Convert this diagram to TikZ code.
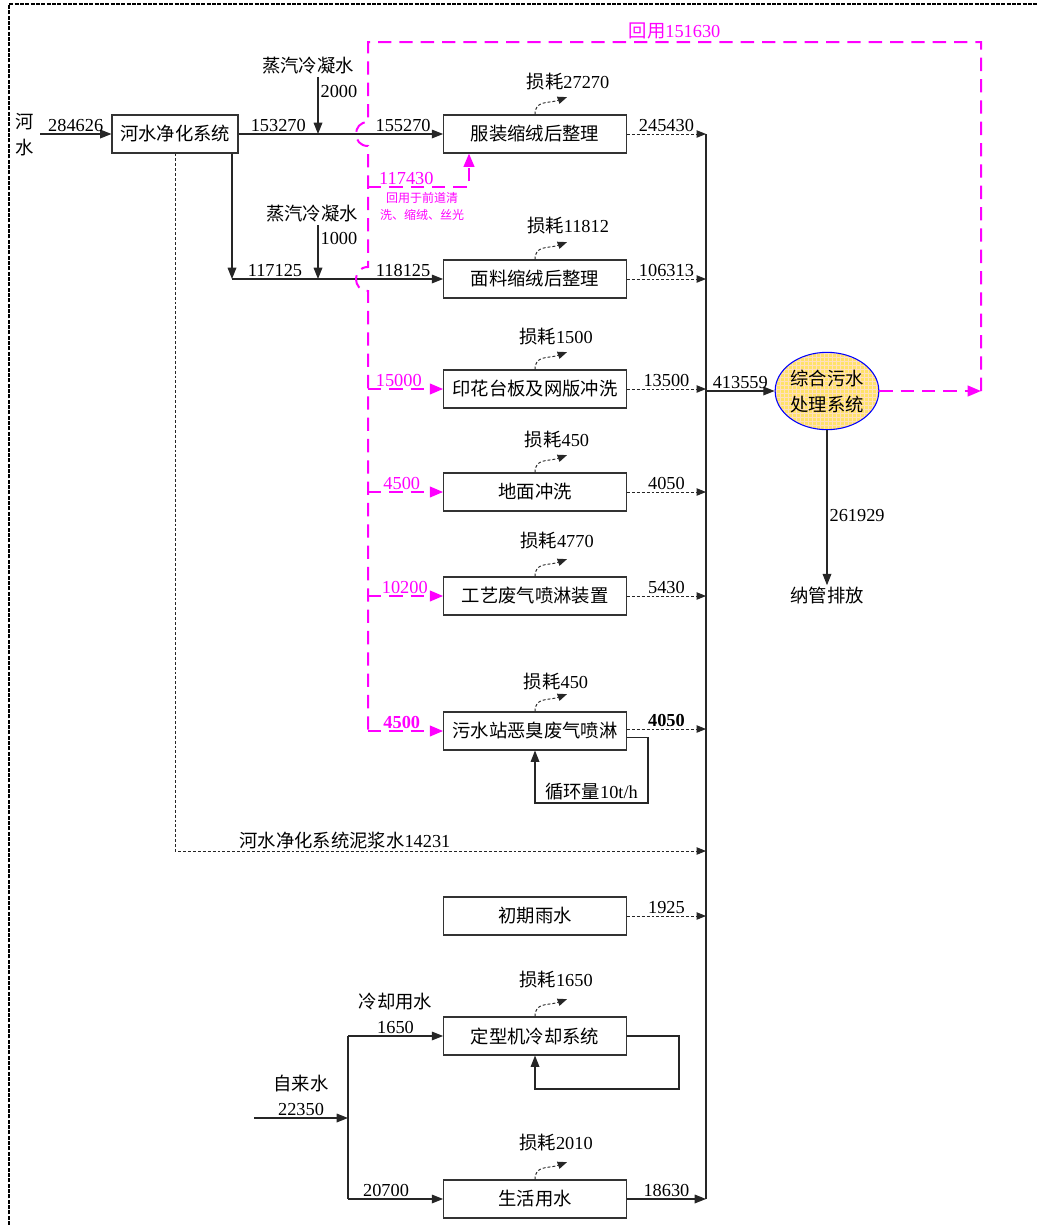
\documentclass[tikz,border=0pt]{standalone}
\usepackage{fontspec}
\setmainfont{Liberation Serif}
\newfontfamily\cjk{Noto Sans CJK SC}
\newcommand{\zh}[1]{{\cjk #1}}
\usepackage{tikz}
\usetikzlibrary{arrows.meta,shapes.geometric,patterns}
\definecolor{mag}{RGB}{255,0,255}
\definecolor{ylw}{RGB}{255,226,105}

\begin{document}
\begin{tikzpicture}[x=0.75pt,y=-0.75pt,
    every node/.style={font=\fontsize{13.75pt}{18.5pt}\selectfont, inner sep=1.5pt},
    box/.style={draw=black!80, line width=0.8pt, minimum width=137pt, minimum height=28.5pt, inner sep=0pt, font=\fontsize{13.75pt}{18.5pt}\selectfont\cjk},
    flow/.style={draw=black!85, line width=0.9pt},
    arr/.style={flow, -{Triangle[length=8.5pt,width=6.5pt]}},
    outarr/.style={draw=black!85, line width=0.7pt, dash pattern=on 2.2pt off 1.5pt, -{Triangle[length=7pt,width=5.5pt]}},
    loss/.style={outarr},
    recy/.style={draw=mag, line width=1.5pt, dash pattern=on 10pt off 6pt},
    recyarr/.style={recy, -{Triangle[length=10pt,width=8pt]}},
    pinknum/.style={text=mag, above, inner sep=1.2pt},
    border/.style={line width=1.8pt, dash pattern=on 3pt off 1pt}]
    \useasboundingbox (0,0) rectangle (1038,1225);
    \draw[border] (9,1225) -- (9,4) -- (1038,4);

    % process boxes
    \node[box, minimum width=94.5pt] (pur) at (175,134) {河水净化系统};
    \node[box] (p1) at (535,134) {服装缩绒后整理};
    \node[box] (p2) at (535,279) {面料缩绒后整理};
    \node[box] (p3) at (535,389) {印花台板及网版冲洗};
    \node[box] (p4) at (535,492) {地面冲洗};
    \node[box] (p5) at (535,596) {工艺废气喷淋装置};
    \node[box] (p6) at (535,731) {污水站恶臭废气喷淋};
    \node[box] (p7) at (535,916) {初期雨水};
    \node[box] (p8) at (535,1036) {定型机冷却系统};
    \node[box] (p9) at (535,1199) {生活用水};
    \node[ellipse, draw=blue, line width=0.8pt, preaction={fill=ylw}, pattern=grid, pattern color=orange!25, minimum width=73.5pt, minimum height=58pt, inner sep=0pt, align=center, font=\fontsize{13.75pt}{19.5pt}\selectfont\cjk] (wwt) at (827,391) {综合污水\\处理系统};

    \node[align=center, font=\fontsize{13.75pt}{19.5pt}\selectfont\cjk] (rv) at (25,135) {河\\水};
    \node (s1) at (308,66) {\zh{蒸汽冷凝水}};
    \node (s2) at (312,214) {\zh{蒸汽冷凝水}};
    \node (out) at (827,596) {\zh{纳管排放}};
    \node[text=mag, align=center, font=\fontsize{9pt}{12.75pt}\selectfont\cjk] (note) at (422,207) {回用于前道清\\洗、缩绒、丝光};

    \node (l1) at (568,82) {\zh{损耗}27270};
    \node (l2) at (568,226) {\zh{损耗}11812};
    \node (l3) at (556,337) {\zh{损耗}1500};
    \node (l4) at (557,440) {\zh{损耗}450};
    \node (l5) at (557,541) {\zh{损耗}4770};
    \node (l6) at (556,682) {\zh{损耗}450};
    \node (l8) at (556,980) {\zh{损耗}1650};
    \node (l9) at (556,1143) {\zh{损耗}2010};

    \coordinate (riv) at (40,134);
    \coordinate (j1) at (318,134);
    \coordinate (j2) at (232,279);
    \coordinate (j3) at (318,279);
    \coordinate (col) at (706,134);
    \coordinate (mud) at (706,851);
    \coordinate (rc1) at (981,391);
    \coordinate (rc2) at (981,42);
    \coordinate (rc3) at (368,42);
    \coordinate (h1) at (368,134);
    \coordinate (h2) at (368,279);
    \coordinate (r1) at (368,187);
    \coordinate (q6) at (648,803);
    \coordinate (q8) at (679,1089);
    \coordinate (tw0) at (254,1118);
    \coordinate (tw1) at (348,1118);

    % river water
    \draw[arr] (riv) -- node[above] {284626} (pur.west);
    \draw[flow] (pur.east) -- node[above] {153270} (j1);
    \draw[arr] (j1) -- node[above, pos=0.68] {155270} (p1.west);
    \draw[arr] (s1.south -| j1) -- node[right, pos=0.25] {2000} (j1);
    \draw[arr] (pur.south -| j2) -- (j2);
    \draw[flow] (j2) -- node[above] {117125} (j3);
    \draw[arr] (j3) -- node[above, pos=0.68] {118125} (p2.west);
    \draw[arr] (s2.south -| j3) -- node[right, pos=0.25] {1000} (j3);
    \draw[outarr] (pur.south) |- node[above, pos=0.66] {\zh{河水净化系统泥浆水}14231} (mud);

    % losses
    \draw[loss] (p1.north) .. controls +(0pt,11pt) and +(-14pt,-5pt) .. ([shift={(24pt,13pt)}]p1.north);
    \draw[loss] (p2.north) .. controls +(0pt,11pt) and +(-14pt,-5pt) .. ([shift={(24pt,13pt)}]p2.north);
    \draw[loss] (p3.north) .. controls +(0pt,11pt) and +(-14pt,-5pt) .. ([shift={(24pt,13pt)}]p3.north);
    \draw[loss] (p4.north) .. controls +(0pt,11pt) and +(-14pt,-5pt) .. ([shift={(24pt,13pt)}]p4.north);
    \draw[loss] (p5.north) .. controls +(0pt,11pt) and +(-14pt,-5pt) .. ([shift={(24pt,13pt)}]p5.north);
    \draw[loss] (p6.north) .. controls +(0pt,11pt) and +(-14pt,-5pt) .. ([shift={(24pt,13pt)}]p6.north);
    \draw[loss] (p8.north) .. controls +(0pt,11pt) and +(-14pt,-5pt) .. ([shift={(24pt,13pt)}]p8.north);
    \draw[loss] (p9.north) .. controls +(0pt,11pt) and +(-14pt,-5pt) .. ([shift={(24pt,13pt)}]p9.north);

    % to the collector
    \draw[outarr] (p1.east) -- node[above] {245430} (p1.east -| col);
    \draw[outarr] (p2.east) -- node[above] {106313} (p2.east -| col);
    \draw[outarr] (p3.east) -- node[above] {13500} (p3.east -| col);
    \draw[outarr] (p4.east) -- node[above] {4050} (p4.east -| col);
    \draw[outarr] (p5.east) -- node[above] {5430} (p5.east -| col);
    \draw[outarr] ([yshift=1.5pt]p6.east) -- node[above] {\textbf{4050}} ([yshift=1.5pt]p6.east -| col);
    \draw[outarr] (p7.east) -- node[above] {1925} (p7.east -| col);
    \draw[arr] (p9.east) -- node[above] {18630} (p9.east -| col);
    \draw[flow] (col) -- (p9.east -| col);

    \draw[arr] (wwt.west -| col) -- node[above] {413559} (wwt.west);
    \draw[arr] (wwt.south) -- node[right, pos=0.55] {261929} (out);

    % reuse water
    \draw[recyarr] (wwt.east) -- (rc1);
    \draw[recy] (rc1) -- (rc2) -- node[above, text=mag] {\zh{回用}151630} (rc3)
        -- ([yshift=9pt]h1) .. controls +(-12pt,0pt) and +(-12pt,0pt) .. ([yshift=-9pt]h1)
        -- ([yshift=9pt]h2) .. controls +(-12pt,0pt) and +(-12pt,0pt) .. ([yshift=-9pt]h2)
        -- (rc3 |- p6.west);
    \draw[recyarr] (r1) -| node[pinknum, pos=0.19] {117430} ([xshift=-49.5pt]p1.south);
    \draw[recyarr] (rc3 |- p3.west) -- node[pinknum, pos=0.41] {15000} (p3.west);
    \draw[recyarr] (rc3 |- p4.west) -- node[pinknum, pos=0.45] {4500} (p4.west);
    \draw[recyarr] (rc3 |- p5.west) -- node[pinknum, pos=0.49] {10200} (p5.west);
    \draw[recyarr] (rc3 |- p6.west) -- node[pinknum, pos=0.45] {\textbf{4500}} (p6.west);

    % loops
    \draw[arr] ([yshift=-5pt]p6.east) -| (q6) -| node[above, pos=0.25] {\zh{循环量}10t/h} (p6.south);
    \draw[arr] (p8.east) -| (q8) -| (p8.south);

    % tap water
    \draw[arr] (tw0) -- node[above, align=center] {\zh{自来水}\\22350} (tw1);
    \draw[flow] (tw1 |- p8.west) -- (tw1 |- p9.west);
    \draw[arr] (tw1 |- p8.west) -- node[above, align=center] {\zh{冷却用水}\\1650} (p8.west);
    \draw[arr] (tw1 |- p9.west) -- node[above, pos=0.4] {20700} (p9.west);
\end{tikzpicture}
\end{document}
